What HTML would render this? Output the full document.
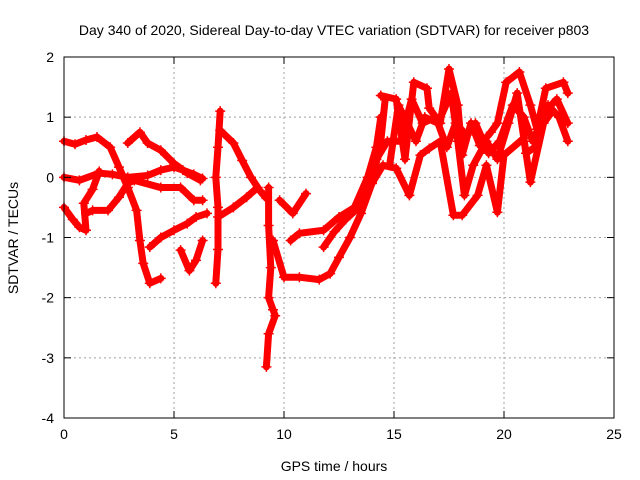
<!DOCTYPE html>
<html><head><meta charset="utf-8"><style>
body{margin:0;background:#fff;}
svg{display:block;font-family:"Liberation Sans",sans-serif;}
</style></head><body>
<svg id="chart" width="640" height="480">
<text x="334" y="35" font-size="14" text-anchor="middle">Day 340 of 2020, Sidereal Day-to-day VTEC variation (SDTVAR) for receiver p803</text>
<text x="334" y="471" font-size="14" text-anchor="middle">GPS time / hours</text>
<text x="18" y="238" font-size="14" text-anchor="middle" transform="rotate(-90 18 238)">SDTVAR / TECUs</text>
<g id="grid"></g><g id="marks"></g><g id="axes"></g>
</svg>
<script>
const xTicks=[0,5,10,15,20,25];
const yTicks=[-4,-3,-2,-1,0,1,2];
const trackA=[[0,0.6],[0.5,0.55],[1,0.62],[1.5,0.67],[2.1,0.5],[2.5,0.17],[2.9,-0.17],[3.3,-0.55],[3.45,-1.05],[3.6,-1.43],[3.9,-1.76],[4.4,-1.68]];
const trackB=[[2.9,0.57],[3.45,0.75],[3.8,0.57],[4.4,0.45],[5,0.23],[5.6,0.07],[6.2,-0.05]];
const trackC=[[0,0],[0.7,-0.05],[1.6,0.07],[2.2,0.05],[2.9,0],[3.8,0.03],[4.4,0.12],[5,0.17],[5.4,0.12],[5.9,0.05],[6.3,-0.02]];
const trackD=[[0,-0.5],[0.4,-0.7],[0.7,-0.83],[1,-0.88],[0.9,-0.43],[1.3,-0.2],[1.6,0.1]];
const trackD2=[[1,-0.6],[1.3,-0.55],[2,-0.55],[2.5,-0.33],[2.9,-0.1],[3.2,-0.05],[4.4,-0.17],[5.3,-0.17],[5.9,-0.38],[6.3,-0.38]];
const trackE=[[3.9,-1.16],[4.4,-1.0],[5,-0.88],[5.6,-0.77],[6,-0.66],[6.5,-0.6]];
const trackF=[[5.3,-1.21],[5.7,-1.55],[6,-1.38],[6.3,-1.05]];
const trackG=[[7.1,1.1],[7,0.5],[6.9,0],[7,-0.5],[7,-1.2],[6.9,-1.76]];
const trackH=[[7.1,0.78],[7.7,0.57],[8.1,0.28],[8.5,0],[8.9,-0.22],[9.2,-0.35]];
const trackI=[[7,-0.66],[7.7,-0.5],[8.3,-0.33],[8.8,-0.17]];
const trackS=[[9.3,-0.17],[9.3,-0.8],[9.4,-1.5],[9.3,-2.0],[9.5,-2.2],[9.6,-2.3],[9.3,-2.6],[9.2,-3.15]];
const trackJ=[[9.8,-0.38],[10.4,-0.6],[11,-0.27]];
const trackK=[[9.5,-1.05],[10,-1.66],[10.7,-1.66],[11.6,-1.7],[12.1,-1.6],[12.5,-1.33],[13,-1.0],[13.5,-0.6],[14,-0.1],[14.4,0.6],[14.6,1.3]];
const trackL=[[10.3,-1.05],[10.7,-0.93],[11.8,-0.88],[12.5,-0.66],[13.2,-0.5],[13.8,0],[14.2,0.5],[14.4,1.0]];
const trackM=[[11.8,-1.16],[12.3,-0.9],[12.8,-0.7],[13.4,-0.5],[14,-0.1],[14.5,0.2],[15.1,0.15],[15.7,-0.3],[16.2,0.37],[16.6,0.48],[17.1,0.6],[17.7,-0.63],[18.1,-0.63],[18.8,-0.3],[19.2,0.2],[19.7,-0.58],[20,0.37],[20.9,0.65],[21.2,-0.08],[21.8,0.9],[22.2,1.1]];
const trackN=[[14.4,1.36],[15.1,1.3],[15.5,0.3],[15.9,1.58],[16.5,1.48],[16.6,1.15],[17.1,0.9],[17.5,1.8],[17.9,1.2],[18.1,0.37],[18.5,0.9],[18.9,0.53],[19.4,0.75],[19.7,0.9],[20.1,1.58],[20.7,1.75],[21.2,1.2],[21.5,0.8],[21.9,1.48],[22.7,1.58],[22.9,1.4]];
const trackO=[[14.8,0.2],[15.2,1.2],[15.6,0.9],[16,0.6],[16.4,1.0],[17,0.9],[17.6,1.4],[17.9,0.6],[18.2,-0.3],[18.6,0.2],[19.2,0.6],[19.7,0.3],[20.2,0.9],[20.6,1.4],[21,0.4],[21.4,0.5],[22,1.2],[22.5,1.0],[22.9,0.6]];
const trackP=[[13.6,-0.3],[14.2,0.3],[14.7,0.6],[15.3,0.6],[15.8,1.3],[16.3,0.9],[16.9,1.0],[17.4,0.5],[17.8,0.9],[18.3,0.7],[18.7,0.9],[19.3,0.4],[19.8,0.6],[20.4,1.2],[20.9,1.0],[21.3,0.6],[21.9,1.1],[22.4,1.3],[22.9,0.9]];
const tracks=[trackA,trackB,trackC,trackD,trackD2,trackE,trackF,trackG,trackH,trackI,trackS,trackJ,trackK,trackL,trackM,trackN,trackO,trackP];

const X0=64,X1=614,Y0=418,Y1=57;
const sx=v=>X0+(v-0)/25*(X1-X0);
const sy=v=>Y0-(v+4)/6*(Y0-Y1);
const NS="http://www.w3.org/2000/svg";
function mk(t,a,p){const e=document.createElementNS(NS,t);for(const k in a)e.setAttribute(k,a[k]);p.appendChild(e);return e;}
const grid=document.getElementById('grid'),axes=document.getElementById('axes'),marks=document.getElementById('marks');
xTicks.forEach(t=>{
  const x=sx(t);
  if(t>0&&t<25){const g=mk('line',{x1:x,x2:x,y1:Y1,y2:Y0,stroke:'#a0a0a0','stroke-dasharray':'2,3'},grid);
  
  }
  mk('line',{x1:x,x2:x,y1:Y0,y2:Y0-7,stroke:'#000'},axes);
  mk('line',{x1:x,x2:x,y1:Y1,y2:Y1+7,stroke:'#000'},axes);
  const l=mk('text',{x:x,y:Y0+21,'font-size':14,'text-anchor':'middle'},axes);l.textContent=t;
  
  
});
yTicks.forEach(t=>{
  const y=sy(t);
  if(t>-4&&t<2){const g=mk('line',{x1:X0,x2:X1,y1:y,y2:y,stroke:'#a0a0a0','stroke-dasharray':'2,3'},grid);
  
  }
  mk('line',{x1:X0,x2:X0+7,y1:y,y2:y,stroke:'#000'},axes);
  mk('line',{x1:X1,x2:X1-7,y1:y,y2:y,stroke:'#000'},axes);
  const l=mk('text',{x:X0-10,y:y+5,'font-size':14,'text-anchor':'end'},axes);l.textContent=t;
  
  
});
const fr=mk('rect',{x:X0,y:Y1,width:X1-X0,height:Y0-Y1,fill:'none',stroke:'#000'},axes);


tracks.forEach((tr,i)=>{
  const pl=mk('polyline',{points:tr.map(p=>sx(p[0])+','+sy(p[1])).join(' '),fill:'none',stroke:'#ff0000','stroke-width':7,'stroke-linejoin':'round','stroke-linecap':'round'},marks);
  
  
  tr.forEach(p=>{
    const x=sx(p[0]),y=sy(p[1]);
    const m=mk('path',{d:`M${x-5},${y}H${x+5}M${x},${y-5}V${y+5}`,stroke:'#ff0000','stroke-width':1.5},marks);
    
    
  });
});
</script>
</body></html>
